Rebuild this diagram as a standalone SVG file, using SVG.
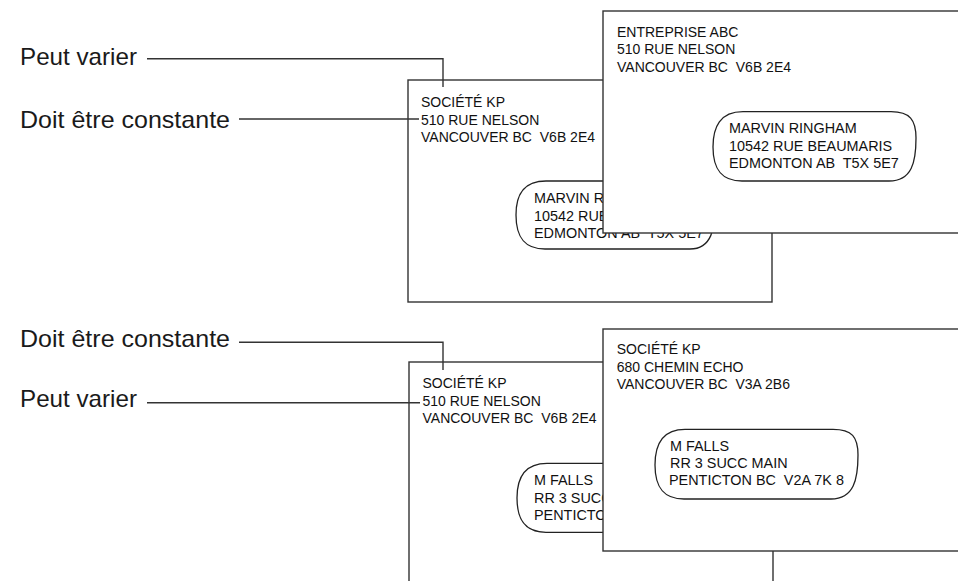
<svg xmlns="http://www.w3.org/2000/svg" width="958" height="581" viewBox="0 0 958 581">
<style>
.env{fill:#fff;stroke:#333;stroke-width:1.4}
.win{fill:#fff;stroke:#222;stroke-width:1.3}
.lbl{font-family:"Liberation Sans",Arial,sans-serif;font-size:24px;fill:#1a1a1a}
.t{font-family:"Liberation Sans",Arial,sans-serif;font-size:14px;fill:#111}
.w{font-family:"Liberation Sans",Arial,sans-serif;font-size:14.4px;fill:#111}
.ld{fill:none;stroke:#333;stroke-width:1.4}
</style>
<rect width="958" height="581" fill="#fff"/>

<!-- Top group -->
<g id="top-back-envelope">
<rect class="env" x="408" y="80" width="364" height="222"/>
<text class="t" x="421" y="107">SOCIÉTÉ KP</text>
<text class="t" x="421" y="124.5">510 RUE NELSON</text>
<text class="t" x="421" y="142" xml:space="preserve">VANCOUVER BC  V6B 2E4</text>
<path class="win" d="M546,181 H690 C708,181 715,188 715,205 C715,228 712,249 690,249 H545 C525,249 516,238 516,215 C516,195 523,181 546,181 Z"/>
<text class="w" x="534" y="203.3">MARVIN RINGHAM</text>
<text class="w" x="534" y="221">10542 RUE BEAUMARIS</text>
<text class="w" x="534" y="238.3" xml:space="preserve">EDMONTON AB  T5X 5E7</text>
</g>
<g id="top-front-envelope">
<rect class="env" x="603" y="11" width="380" height="222"/>
<text class="t" x="617" y="36.7">ENTREPRISE ABC</text>
<text class="t" x="617" y="54">510 RUE NELSON</text>
<text class="t" x="617" y="71.7" xml:space="preserve">VANCOUVER BC  V6B 2E4</text>
<path class="win" d="M743,111.7 H891 C910,111.7 916,120 916,138 C916,162 912,181 889,181 H742 C722,181 713,170 713,147 C713,127 720,111.7 743,111.7 Z"/>
<text class="w" x="729" y="133.3">MARVIN RINGHAM</text>
<text class="w" x="729" y="150.7">10542 RUE BEAUMARIS</text>
<text class="w" x="729" y="168.3" xml:space="preserve">EDMONTON AB  T5X 5E7</text>
</g>
<g id="top-label-peut">
<text class="lbl" x="20" y="65" textLength="117" lengthAdjust="spacingAndGlyphs">Peut varier</text>
</g>
<g id="top-label-doit">
<text class="lbl" x="20" y="127.5" textLength="210" lengthAdjust="spacingAndGlyphs">Doit être constante</text>
</g>

<!-- Bottom group -->
<g id="bottom-back-envelope">
<rect class="env" x="409" y="362" width="364" height="240"/>
<text class="t" x="422.5" y="388.3">SOCIÉTÉ KP</text>
<text class="t" x="422.5" y="406">510 RUE NELSON</text>
<text class="t" x="422.5" y="423.3" xml:space="preserve">VANCOUVER BC  V6B 2E4</text>
<path class="win" d="M547,463.3 H690 C708,463.3 715,470 715,487 C715,510 712,532.3 690,532.3 H546 C526,532.3 517,521 517,498 C517,478 524,463.3 547,463.3 Z"/>
<text class="w" x="534" y="485">M FALLS</text>
<text class="w" x="534" y="502.7">RR 3 SUCC MAIN</text>
<text class="w" x="534" y="520" xml:space="preserve">PENTICTON BC  V2A 7K 8</text>
</g>
<g id="bottom-front-envelope">
<rect class="env" x="603" y="329" width="380" height="222"/>
<text class="t" x="616.7" y="354.3">SOCIÉTÉ KP</text>
<text class="t" x="616.7" y="371.7">680 CHEMIN ECHO</text>
<text class="t" x="616.7" y="389.3" xml:space="preserve">VANCOUVER BC  V3A 2B6</text>
<path class="win" d="M685,429.3 H833 C852,429.3 858,437 858,455 C858,479 854,499 831,499 H684 C664,499 655,488 655,465 C655,445 662,429.3 685,429.3 Z"/>
<text class="w" x="670" y="450.7">M FALLS</text>
<text class="w" x="670" y="468.3">RR 3 SUCC MAIN</text>
<text class="w" x="669" y="485" xml:space="preserve">PENTICTON BC  V2A 7K 8</text>
</g>
<g id="bottom-label-doit">
<text class="lbl" x="20" y="347" textLength="210" lengthAdjust="spacingAndGlyphs">Doit être constante</text>
</g>
<g id="bottom-label-peut">
<text class="lbl" x="20" y="406.5" textLength="117" lengthAdjust="spacingAndGlyphs">Peut varier</text>
</g>

<g id="connectors">
<path class="ld" d="M147,58.7 H443 V87"/>
<path class="ld" d="M239,119 H419"/>
<path class="ld" d="M239,342.3 H443 V370"/>
<path class="ld" d="M147,402.7 H420"/>
</g>
</svg>
